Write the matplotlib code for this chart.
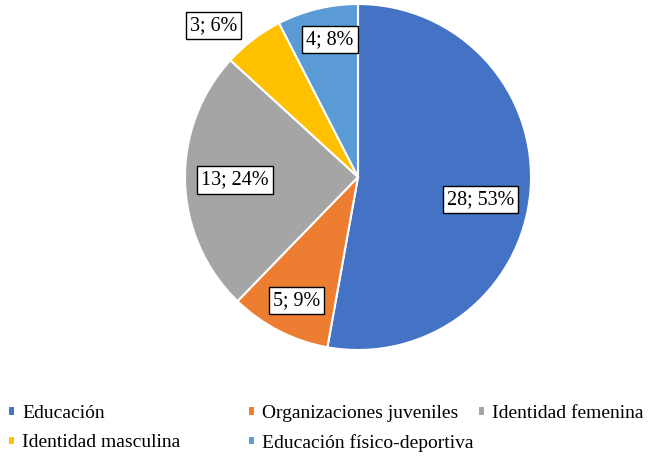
import numpy as np
import matplotlib.pyplot as plt

# datos
categorias = ['Educación', 'Organizaciones juveniles', 'Identidad femenina',
              'Identidad masculina', 'Educación físico-deportiva']
valores = [28, 5, 13, 3, 4]
porcentajes = ['53%', '9%', '24%', '6%', '8%']
colores = ['#4472C4', '#ED7D31', '#A5A5A5', '#FFC000', '#5B9BD5']
# posicion de etiquetas: distancia al centro y giro respecto al angulo medio
dist_etiqueta = [0.72, 0.80, 0.71, 1.21, 0.81]
giro_etiqueta = [-5.5, 0.7, -0.3, 6.2, -2.0]

plt.rcParams['font.family'] = ['Liberation Serif', 'DejaVu Serif']

W, H = 656, 472
fig = plt.figure(figsize=(W / 100, H / 100), dpi=100)
cx, cy, r = 358, 177, 173
ax = fig.add_axes([(cx - r) / W, (H - cy - r) / H, 2 * r / W, 2 * r / H])

wedges, _ = ax.pie(valores, colors=colores, startangle=90, counterclock=False,
                   radius=1, wedgeprops=dict(edgecolor='white', linewidth=1.5))
ax.set_xlim(-1, 1)
ax.set_ylim(-1, 1)
ax.set_aspect('equal')

for w, v, p, d, g in zip(wedges, valores, porcentajes, dist_etiqueta, giro_etiqueta):
    ang = np.deg2rad((w.theta1 + w.theta2) / 2 + g)
    ax.text(d * np.cos(ang), d * np.sin(ang), f'{v}; {p}', ha='center', va='center',
            fontsize=14.5, clip_on=False,
            bbox=dict(boxstyle='square,pad=0.2', facecolor='white', edgecolor='black', linewidth=1))

# leyenda: tres columnas como en Excel
columnas = [[0, 3], [1, 4], [2]]
x_col = [8, 248, 478]
for idx, x in zip(columnas, x_col):
    fig.legend([wedges[i] for i in idx], [categorias[i] for i in idx],
               loc='upper left', bbox_to_anchor=(x / W, 1 - 405 / H),
               frameon=False, fontsize=14, handlelength=0.34, handleheight=0.34,
               handletextpad=0.38, labelspacing=0.62, borderpad=0, borderaxespad=0)

plt.savefig('out.png', dpi=100)
